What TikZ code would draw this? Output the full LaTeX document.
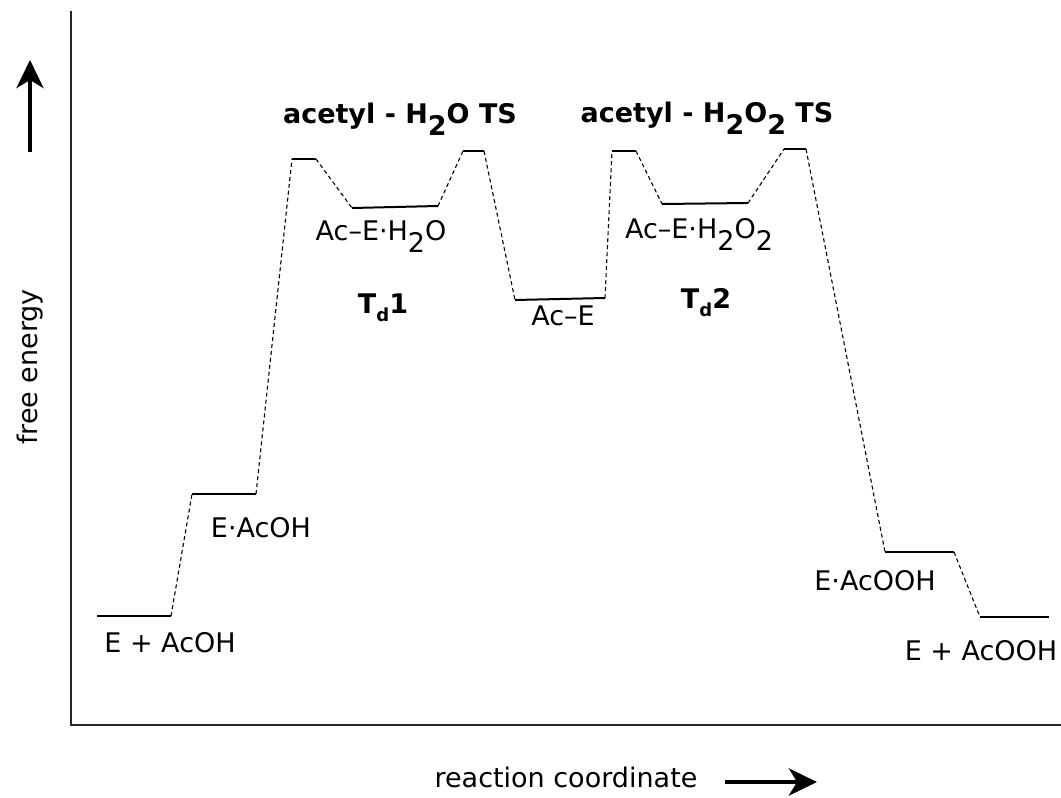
\documentclass[tikz,border=0pt]{standalone}
\usepackage{fontspec}
\setmainfont{DejaVu Sans}
\usepackage{tikz}
\usetikzlibrary{arrows.meta}
\newcommand{\lowsub}[1]{\raisebox{-0.45em}{#1}}
\newcommand{\tdsub}{\raisebox{-0.3em}{\fontsize{18}{18}\selectfont d}}

\begin{document}
\begin{tikzpicture}[x=1pt,y=-1pt,
  level/.style={line width=2pt},
  link/.style={line width=1.1pt,dash pattern=on 4pt off 3pt},
  lbl/.style={font=\fontsize{27}{32}\selectfont,inner sep=0pt,anchor=base},
  bigarrow/.style={line width=4.5pt,-{Stealth[length=28pt,width=27pt,inset=8pt]}}]
  \useasboundingbox (0,0) rectangle (1061,798);
  % axes
  \coordinate (top) at (71,11);
  \coordinate (origin) at (71,725);
  \coordinate (right) at (1061,725);
  \draw[line width=1.5pt,black!85] (top)--(origin)--(right);
  \coordinate (up0) at (30,152);
  \coordinate (up1) at (30,60);
  \draw[bigarrow] (up0)--(up1);
  \coordinate (rc0) at (725,782);
  \coordinate (rc1) at (817,782);
  \draw[bigarrow] (rc0)--(rc1);
  \node[lbl,rotate=90] (yaxis) at (37,367) {free energy};
  \node[lbl] (xaxis) at (566,787) {reaction coordinate};
  % energy levels
  \coordinate (r1a) at (97,616);  \coordinate (r1b) at (171,616);
  \coordinate (r2a) at (192,494); \coordinate (r2b) at (256,494);
  \coordinate (t1a) at (292,159); \coordinate (t1b) at (316,159);
  \coordinate (i1a) at (352,208); \coordinate (i1b) at (438,206);
  \coordinate (t2a) at (463,151); \coordinate (t2b) at (484,151);
  \coordinate (i2a) at (515,300); \coordinate (i2b) at (605,298);
  \coordinate (t3a) at (612,151); \coordinate (t3b) at (636,151);
  \coordinate (i3a) at (662,204); \coordinate (i3b) at (748,203);
  \coordinate (t4a) at (784,149); \coordinate (t4b) at (806,149);
  \coordinate (p1a) at (885,552); \coordinate (p1b) at (954,552);
  \coordinate (p2a) at (980,617); \coordinate (p2b) at (1049,617);
  \foreach \s in {r1,r2,t1,i1,t2,i2,t3,i3,t4,p1,p2}
    \draw[level] (\s a)--(\s b);
  \draw[link] (r1b)--(r2a) (r2b)--(t1a) (t1b)--(i1a) (i1b)--(t2a)
    (t2b)--(i2a) (i2b)--(t3a) (t3b)--(i3a) (i3b)--(t4a)
    (t4b)--(p1a) (p1b)--(p2a);
  % labels
  \node[lbl] (r1) at (170,652) {E + AcOH};
  \node[lbl] (r2) at (261,537) {E·AcOH};
  \node[lbl] (i1) at (381,240) {Ac–E·H\lowsub{2}O};
  \node[lbl] (i2) at (563,325) {Ac–E};
  \node[lbl] (i3) at (699,238) {Ac–E·H\lowsub{2}O\lowsub{2}};
  \node[lbl] (p1) at (875,590) {E·AcOOH};
  \node[lbl] (p2) at (981,660) {E + AcOOH};
  \node[lbl,font=\fontsize{27}{32}\selectfont\bfseries] (ts1) at (400,123)
    {acetyl - H\lowsub{2}O TS};
  \node[lbl,font=\fontsize{27}{32}\selectfont\bfseries] (ts2) at (707,122)
    {acetyl - H\lowsub{2}O\lowsub{2} TS};
  \node[lbl,font=\fontsize{27}{32}\selectfont\bfseries] (td1) at (383,313)
    {T\tdsub1};
  \node[lbl,font=\fontsize{27}{32}\selectfont\bfseries] (td2) at (706,308)
    {T\tdsub2};
\end{tikzpicture}
\end{document}
